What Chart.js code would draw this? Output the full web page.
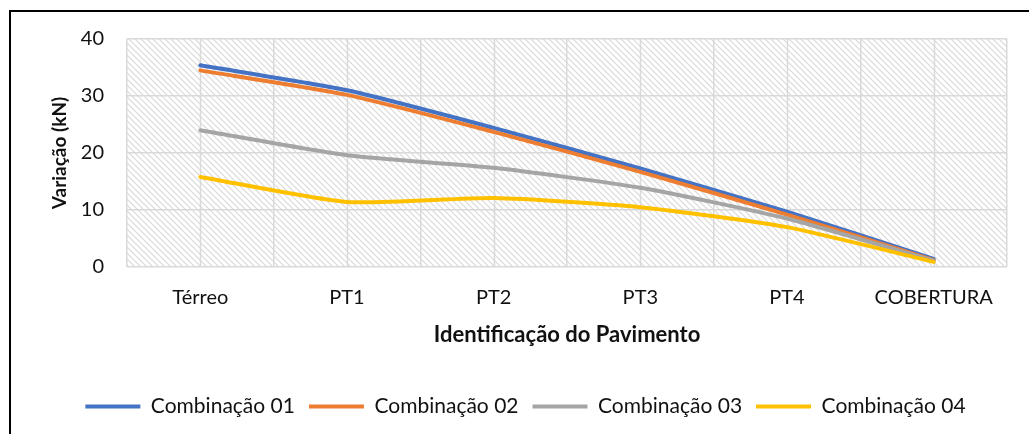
<!DOCTYPE html>
<html>
<head>
<meta charset="utf-8">
<script src="https://cdn.jsdelivr.net/npm/chart.js@4/dist/chart.umd.min.js"></script>
<style>
html,body{margin:0;padding:0;background:#fff;}
#wrap{position:relative;width:1029px;height:434px;}
</style>
</head>
<body>
<div id="wrap"><canvas id="c" width="1029" height="434"></canvas></div>
<script>
const categories = ['Térreo', 'PT1', 'PT2', 'PT3', 'PT4', 'COBERTURA'];
const comb01 = [35.4, 31.0, 24.4, 17.3, 9.7, 1.4];
const comb02 = [34.5, 30.2, 23.7, 16.7, 9.2, 1.2];
const comb03 = [24.0, 19.6, 17.4, 13.9, 8.5, 1.1];
const comb04 = [15.8, 11.4, 12.1, 10.5, 7.0, 0.9];
const seriesNames = ['Combinação 01', 'Combinação 02', 'Combinação 03', 'Combinação 04'];
const yTicks = [0, 10, 20, 30, 40];

const FONT = 'Lato, "Open Sans", sans-serif';
const colors = ['#4472C4', '#ED7D31', '#A5A5A5', '#FFC000'];

function makePattern(ctx) {
  const s = 6;
  const pc = document.createElement('canvas');
  pc.width = s; pc.height = s;
  const p = pc.getContext('2d');
  p.fillStyle = '#ffffff';
  p.fillRect(0, 0, s, s);
  p.strokeStyle = '#d9d9d9';
  p.lineWidth = 1.2;
  p.beginPath();
  p.moveTo(-1, -1); p.lineTo(s + 1, s + 1);
  p.moveTo(-1 - s, -1); p.lineTo(1, s + 1);
  p.moveTo(s - 1, -1); p.lineTo(2 * s + 1, s + 1);
  p.stroke();
  return ctx.createPattern(pc, 'repeat');
}

const bgPlugin = {
  id: 'bgPlugin',
  beforeDraw(chart) {
    const {ctx, chartArea: a} = chart;
    ctx.save();
    ctx.fillStyle = makePattern(ctx);
    ctx.fillRect(a.left, a.top, a.right - a.left, a.bottom - a.top);
    ctx.restore();
  },
  beforeDatasetsDraw(chart) {
    const {ctx, chartArea: a} = chart;
    const xs = chart.scales.x;
    ctx.save();
    ctx.strokeStyle = '#d9d9d9';
    ctx.lineWidth = 1.5;
    for (let i = 0; i < categories.length; i++) {
      const x = Math.round(xs.getPixelForTick(i)) + 0.5;
      ctx.beginPath();
      ctx.moveTo(x, a.top);
      ctx.lineTo(x, a.bottom);
      ctx.stroke();
    }
    ctx.restore();
  },
  afterDraw(chart) {
    const ctx = chart.ctx;
    ctx.save();
    ctx.fillStyle = '#000';
    ctx.fillRect(9, 10, 2, 424);
    ctx.fillRect(9, 10, 1020, 2);
    ctx.restore();
  }
};

const data = {
  labels: categories,
  datasets: [comb01, comb02, comb03, comb04].map((d, i) => ({
    label: seriesNames[i],
    data: d,
    borderColor: colors[i],
    backgroundColor: colors[i],
    borderWidth: 4,
    pointRadius: 0,
    pointHoverRadius: 0,
    tension: 0.2,
    fill: false,
    borderCapStyle: 'round',
    borderJoinStyle: 'round'
  })).reverse()
};

new Chart(document.getElementById('c'), {
  type: 'line',
  data: data,
  options: {
    responsive: false,
    animation: false,
    events: [],
    layout: { padding: { top: 39, right: 0, left: 22, bottom: 7 } },
    scales: {
      x: {
        offset: true,
        grid: { display: true, offset: true, color: '#d9d9d9', lineWidth: 1.5, drawTicks: false },
        border: { display: false },
        ticks: { color: '#111', font: { family: FONT, size: 20 }, padding: 19, maxRotation: 0, autoSkip: false },
        title: { display: true, text: 'Identificação do Pavimento', color: '#111',
                 font: { family: FONT, size: 22, weight: 'bold' }, padding: { top: 0, bottom: 34 } },
        afterFit(scale) { scale.height = 115; }
      },
      y: {
        min: 0, max: 40,
        afterBuildTicks(scale) { scale.ticks = yTicks.map(v => ({ value: v })); },
        grid: { color: '#d9d9d9', lineWidth: 1.5, drawTicks: false },
        border: { display: false },
        ticks: { color: '#111', font: { family: FONT, size: 20 }, padding: 23 },
        title: { display: true, text: 'Variação (kN)', color: '#111',
                 font: { family: FONT, size: 19, weight: 'bold' }, padding: { top: 26, bottom: 0 } },
        afterFit(scale) { scale.width = 105; }
      },
      yRight: {
        position: 'right',
        min: 0, max: 40,
        grid: { display: false, drawTicks: false },
        border: { display: false },
        ticks: { display: false },
        afterFit(scale) { scale.width = 22; }
      }
    },
    plugins: {
      legend: {
        position: 'bottom',
        reverse: true,
        labels: {
          boxWidth: 55, boxHeight: 4, padding: 14, color: '#111',
          font: { family: FONT, size: 21 },
          generateLabels(chart) {
            const items = Chart.defaults.plugins.legend.labels.generateLabels(chart);
            items.forEach(it => { it.lineWidth = 0; it.strokeStyle = 'rgba(0,0,0,0)'; });
            return items;
          }
        }
      },
      tooltip: { enabled: false }
    }
  },
  plugins: [bgPlugin]
});
</script>
</body>
</html>
